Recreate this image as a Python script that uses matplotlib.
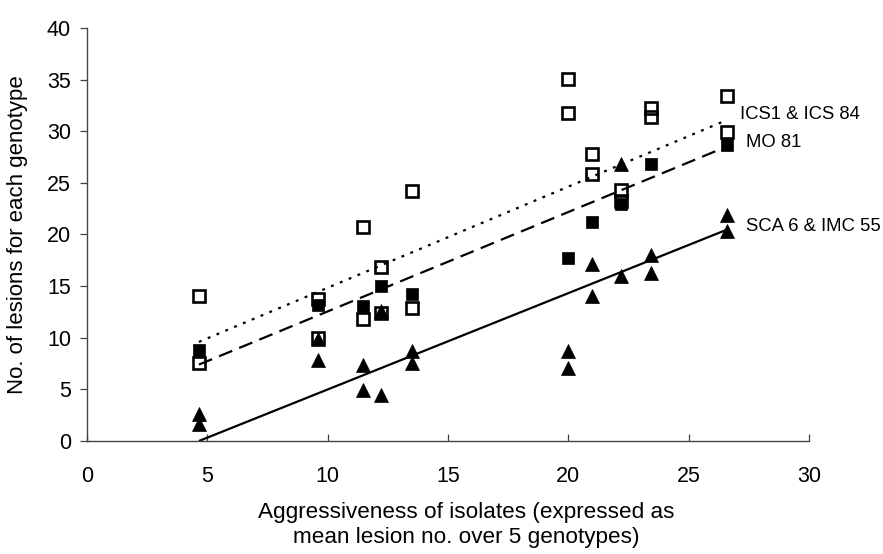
import matplotlib
matplotlib.use("Agg")
import matplotlib.pyplot as plt
import numpy as np

plt.rcParams['font.family'] = ['Liberation Sans', 'DejaVu Sans']

# Aggressiveness of each isolate (mean lesion no. over 5 genotypes)
isolate_x = [4.65, 9.6, 11.45, 12.2, 13.5, 20.0, 21.0, 22.2, 23.45, 26.6]

# Lesion counts per genotype for each isolate
ics1 = [14.0, 13.8, 20.7, 16.9, 24.25, 35.1, 27.8, 24.3, 32.3, 33.4]
ics84 = [7.6, 10.0, 11.8, 12.4, 12.9, 31.8, 25.9, 23.2, 31.4, 29.9]
mo81 = [8.8, 13.2, 13.1, 15.0, 14.2, 17.75, 21.2, 23.0, 26.8, 28.7]
sca6 = [2.6, 9.9, 7.4, 12.6, 8.7, 8.7, 17.1, 26.8, 17.97, 21.9]
imc55 = [1.6, 7.8, 4.9, 4.5, 7.6, 7.05, 14.0, 16.0, 16.3, 20.3]

# Linear trend lines (slope, intercept) for each genotype group
trend_names = ["ICS1 & ICS 84", "MO 81", "SCA 6 & IMC 55"]
trend_slope = [0.9795, 0.9627, 0.933]
trend_intercept = [5.045, 2.923, -4.339]

x_ticks = [0, 5, 10, 15, 20, 25, 30]
y_ticks = [0, 5, 10, 15, 20, 25, 30, 35, 40]

W, H = 883, 554
fig = plt.figure(figsize=(W / 100, H / 100), dpi=100)
ax = fig.add_axes([87 / W, 1 - 441 / H, (809 - 87) / W, (441 - 28) / H])

x = np.array(isolate_x)

# Trend lines over the range of isolates
xr = np.array([x.min(), x.max()])
styles = [dict(linestyle=(0, (1.3, 3.0))),
          dict(linestyle=(0, (6.4, 3.4))),
          dict(linestyle='-')]
for s, b, st in zip(trend_slope, trend_intercept, styles):
    ax.plot(xr, s * xr + b, color='black', lw=1.6, zorder=2,
            solid_capstyle='butt', dash_capstyle='butt', **st)

# Open squares: ICS1 and ICS 84
for ys in (ics1, ics84):
    ax.plot(x, ys, linestyle='none', marker='s', ms=8, mew=1.9,
            mfc='none', mec='black', zorder=3, clip_on=False)
# Filled squares: MO 81
ax.plot(x, mo81, linestyle='none', marker='s', ms=9, mew=0.5,
        mfc='black', mec='black', zorder=4, clip_on=False)
# Filled triangles: SCA 6 and IMC 55
for ys in (sca6, imc55):
    ax.plot(x, ys, linestyle='none', marker='^', ms=10, mew=0.5,
            mfc='black', mec='black', zorder=5, clip_on=False)

ax.set_xlim(0, 30)
ax.set_ylim(0, 40)
ax.set_xticks(x_ticks)
ax.set_yticks(y_ticks)
ax.set_xticklabels([str(v) for v in x_ticks], fontsize=15.5)
ax.set_yticklabels([str(v) for v in y_ticks], fontsize=15.5)

for side in ('top', 'right'):
    ax.spines[side].set_visible(False)
for side in ('left', 'bottom'):
    ax.spines[side].set_color('#444444')
    ax.spines[side].set_linewidth(1.0)

ax.tick_params(axis='x', direction='in', length=5, width=0.9, pad=18,
               color='#444444')
ax.tick_params(axis='y', direction='out', length=5, width=0.9, pad=6.5,
               color='#444444')

# Group labels beside the right end of each trend line
ax.text(27.13, 31.6, trend_names[0], fontsize=13.3, va='center', ha='left',
        clip_on=False)
ax.text(27.38, 28.9, trend_names[1], fontsize=13.3, va='center', ha='left',
        clip_on=False)
ax.text(27.38, 20.8, trend_names[2], fontsize=13.3, va='center', ha='left',
        clip_on=False)

fig.text(466 / W, 1 - 525 / H,
         "Aggressiveness of isolates (expressed as\nmean lesion no. over 5 genotypes)",
         ha='center', va='center', fontsize=16.2, linespacing=1.3)
fig.text(18 / W, 1 - 235 / H, "No. of lesions for each genotype",
         ha='center', va='center', rotation=90, fontsize=16)

fig.savefig("out.png", dpi=100, facecolor='white')
